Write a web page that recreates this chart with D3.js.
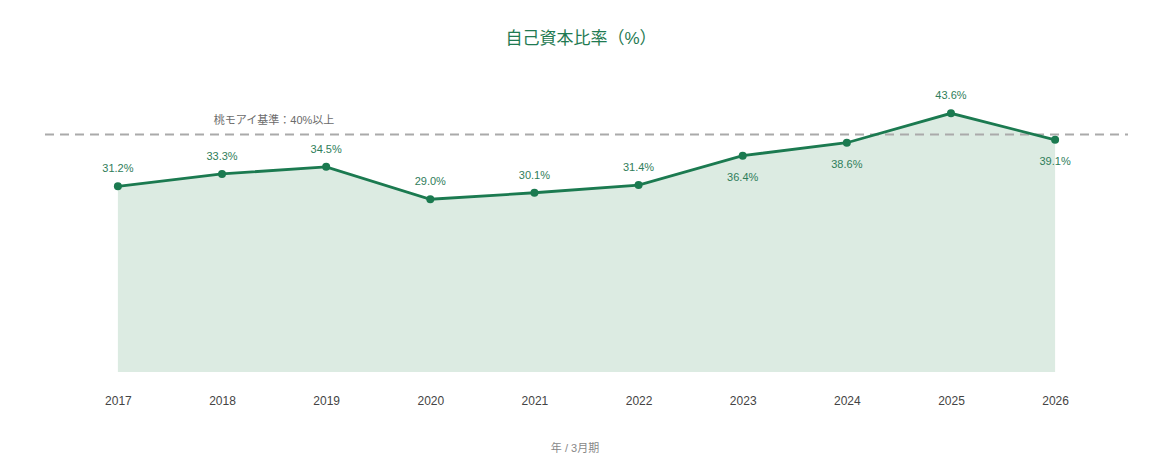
<!DOCTYPE html>
<html>
<head>
<meta charset="utf-8">
<title>自己資本比率</title>
<script src="https://d3js.org/d3.v7.min.js"></script>
<style type="text/css">
	body{ margin:0; background:#fff; }
	svg{ font-family: "Liberation Sans", "Noto Sans CJK JP", sans-serif; }
	.area{ fill:#dcebe2; }
	.line{ fill:none; stroke:#1b7a50; stroke-width:2.8; }
	.dot{ fill:#1b7a50; }
	.vlabel{ fill:#2f7d5a; font-size:11px; text-anchor:middle; }
	.ref{ stroke:#aaaaaa; stroke-width:1.8; stroke-dasharray:9,6; }
	.reflabel{ fill:#6b6b6b; font-size:11px; text-anchor:middle; }
	.tick text{ fill:#444; font-size:12px; }
</style>
</head>
<body>
<svg id="chart" width="1150" height="459"></svg>
<script>
	// data
	var years = ["2017","2018","2019","2020","2021","2022","2023","2024","2025","2026"];
	var ratios = [31.2, 33.3, 34.5, 29.0, 30.1, 31.4, 36.4, 38.6, 43.6, 39.1];
	var target = 40;
	var targetLabel = "桃モアイ基準：40%以上";
	var title = "自己資本比率（%）";
	var xTitle = "年 / 3月期";

	var svg = d3.select("#chart");
	var width = +svg.attr("width");
	var height = +svg.attr("height");
	var margin = {top:75.6, right:22, bottom:89, left:45};

	var data = years.map(function(y,i){ return {year:y, value:ratios[i]}; });

	var x = d3.scalePoint()
		.domain(years)
		.range([margin.left, width - margin.right])
		.padding(0.7);

	var y = d3.scaleLinear()
		.domain([0, 50])
		.range([height - margin.bottom, margin.top]);

	svg.append("text")
		.attr("x", width/2 + 6)
		.attr("y", 44)
		.attr("text-anchor","middle")
		.attr("font-size","17px")
		.attr("fill","#1f7a52")
		.text(title);

	var area = d3.area()
		.x(function(d){ return x(d.year); })
		.y0(y(0) + 2)
		.y1(function(d){ return y(d.value); });

	svg.append("path")
		.datum(data)
		.attr("class","area")
		.attr("d", area);

	// reference line
	svg.append("line")
		.attr("class","ref")
		.attr("x1", margin.left)
		.attr("x2", width - margin.right)
		.attr("y1", y(target))
		.attr("y2", y(target));

	svg.append("text")
		.attr("class","reflabel")
		.attr("x", (x(years[1]) + x(years[2])) / 2)
		.attr("y", y(target) - 10)
		.text(targetLabel);

	var line = d3.line()
		.x(function(d){ return x(d.year); })
		.y(function(d){ return y(d.value); });

	svg.append("path")
		.datum(data)
		.attr("class","line")
		.attr("d", line);

	svg.selectAll(".dot")
		.data(data)
		.enter()
		.append("circle")
		.attr("class","dot")
		.attr("cx", function(d){ return x(d.year); })
		.attr("cy", function(d){ return y(d.value); })
		.attr("r", 4);

	// labels go under the point when it sits just below the reference line
	svg.selectAll(".vlabel")
		.data(data)
		.enter()
		.append("text")
		.attr("class","vlabel")
		.attr("x", function(d){ return x(d.year); })
		.attr("y", function(d){
			var below = d.value > 35 && d.value < target;
			return y(d.value) + (below ? 25 : -14);
		})
		.text(function(d){ return d.value.toFixed(1) + "%"; });

	var xAxis = svg.append("g")
		.attr("transform","translate(0," + (y(0) + 2) + ")")
		.call(d3.axisBottom(x).tickSize(0).tickPadding(24));
	xAxis.select(".domain").remove();

	svg.append("text")
		.attr("x", width/2)
		.attr("y", 452)
		.attr("text-anchor","middle")
		.attr("font-size","11px")
		.attr("fill","#888")
		.text(xTitle);
</script>
</body>
</html>
